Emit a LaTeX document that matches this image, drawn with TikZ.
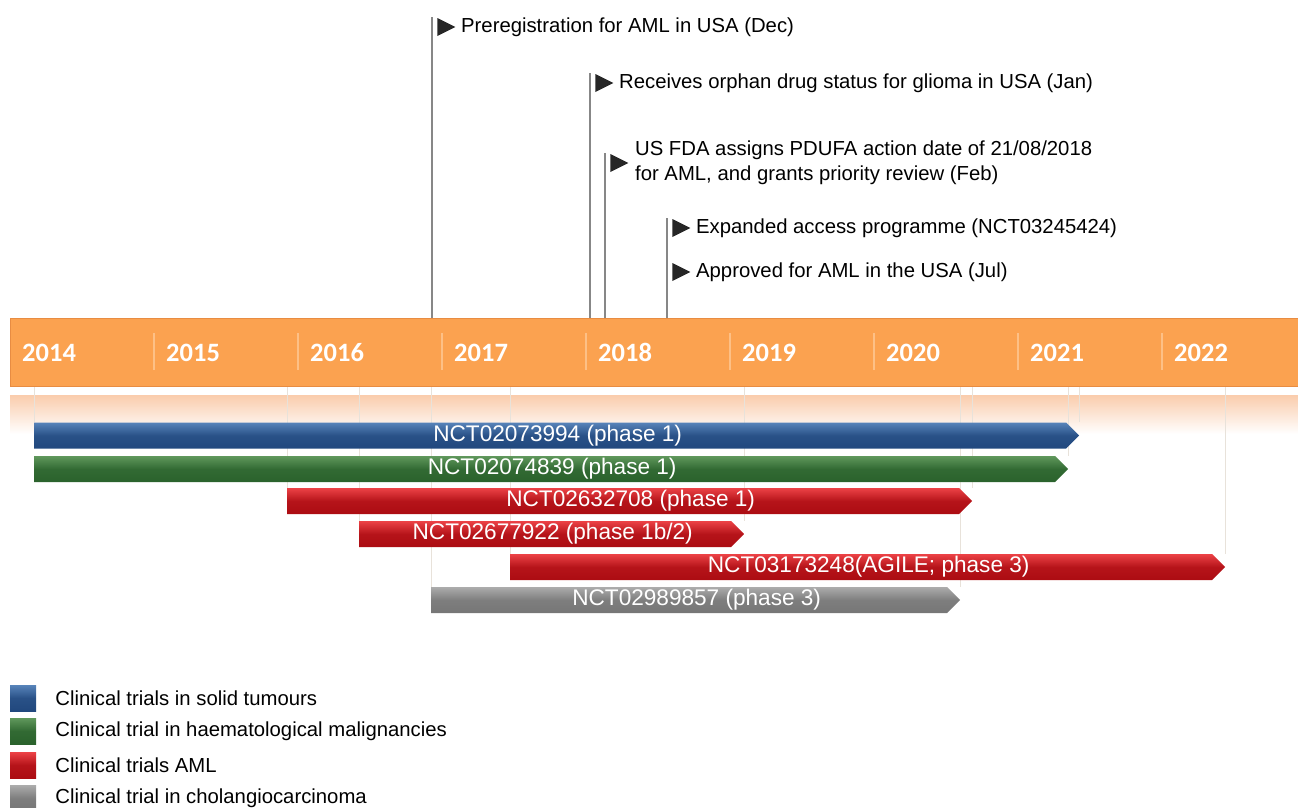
\documentclass[tikz,border=0pt]{standalone}
\usepackage{fontspec}
\setmainfont{Liberation Sans}
\newfontfamily\yearfont{Carlito}
\usetikzlibrary{positioning}
\usetikzlibrary{shapes.geometric}
\usetikzlibrary{shapes.symbols}
\usetikzlibrary{backgrounds}
\definecolor{tlorange}    {RGB}{251,162,80}
\definecolor{tlorangedark}{RGB}{232,140,66}
\definecolor{tlsplit}     {RGB}{253,192,134}
\definecolor{tlglow}      {RGB}{250,204,172}
\definecolor{tldrop}      {RGB}{232,226,218}
\definecolor{solidtop}    {RGB}{88,132,186}
\definecolor{soliddark}   {RGB}{33,72,126}
\definecolor{haemtop}     {RGB}{96,152,92}
\definecolor{haemdark}    {RGB}{42,98,44}
\definecolor{amltop}      {RGB}{236,66,70}
\definecolor{amldark}     {RGB}{172,12,18}
\definecolor{choltop}     {RGB}{172,172,172}
\definecolor{choldark}    {RGB}{118,118,118}
\definecolor{milestone}   {RGB}{135,135,135}
\tikzset{year bar/.style={
    rectangle, draw=tlorangedark, fill=tlorange,
    inner sep=0pt, anchor=north west,
    minimum width=1300pt, minimum height=68pt
}}
\tikzset{year label/.style={
    text=white, inner sep=0pt, anchor=base west,
    font=\yearfont\bfseries\fontsize{26.5}{30}\selectfont
}}
\tikzset{trial/.style={
    signal, signal to=east, anchor=west,
    inner sep=0pt, minimum height=26pt,
    execute at begin node=\hspace*{15pt},
    text=white, font=\fontsize{22.6}{26}\selectfont
}}
\tikzset{solid tumour/.style={
    top color=solidtop, bottom color=soliddark, middle color=soliddark!85!solidtop
}}
\tikzset{haematological/.style={
    top color=haemtop, bottom color=haemdark, middle color=haemdark!85!haemtop
}}
\tikzset{aml/.style={
    top color=amltop, bottom color=amldark, middle color=amldark!85!amltop
}}
\tikzset{cholangio/.style={
    top color=choltop, bottom color=choldark, middle color=choldark!85!choltop
}}
\tikzset{event marker/.style={
    isosceles triangle, isosceles triangle stretches,
    fill=black!85, inner sep=0pt,
    minimum width=18pt, minimum height=18pt
}}
\tikzset{event text/.style={
    node distance=5pt, inner sep=0pt, align=left,
    font=\fontsize{20.3}{24.6}\selectfont
}}
\tikzset{event line/.style={
    draw=milestone, line width=1.5pt
}}
\tikzset{drop line/.style={
    draw=tldrop, line width=1pt
}}
\tikzset{legend key/.style={
    rectangle, inner sep=0pt, minimum size=26pt
}}
\tikzset{legend text/.style={
    node distance=19pt, inner sep=0pt,
    font=\fontsize{20.3}{24.6}\selectfont
}}

\begin{document}
\begin{tikzpicture}[x=1pt, y=-1pt]
    \useasboundingbox (0,0) rectangle (1298,807);

    % year axis
    \node (axis) [year bar] at (10,318) {};
    \draw [tlsplit, line width=1.2pt]
      (154,333) -- (154,370)  (298,333) -- (298,370)
      (442,333) -- (442,370)  (586,333) -- (586,370)
      (730,333) -- (730,370)  (874,333) -- (874,370)
      (1018,333) -- (1018,370) (1162,333) -- (1162,370);

    \node (y2014) [year label] at (22,361)   {2014};
    \node (y2015) [year label] at (166,361)  {2015};
    \node (y2016) [year label] at (310,361)  {2016};
    \node (y2017) [year label] at (454,361)  {2017};
    \node (y2018) [year label] at (598,361)  {2018};
    \node (y2019) [year label] at (742,361)  {2019};
    \node (y2020) [year label] at (886,361)  {2020};
    \node (y2021) [year label] at (1030,361) {2021};
    \node (y2022) [year label] at (1174,361) {2022};

    % trials
    \node (nct1) [trial, solid tumour,   minimum width=1045pt] at (34,435.5) {NCT02073994 (phase 1)};
    \node (nct2) [trial, haematological, minimum width=1034pt] at (34,469)   {NCT02074839 (phase 1)};
    \node (nct3) [trial, aml,            minimum width=685pt]  at (287,501)  {NCT02632708 (phase 1)};
    \node (nct4) [trial, aml,            minimum width=385pt]  at (359,534)  {NCT02677922 (phase 1b/2)};
    \node (nct5) [trial, aml,            minimum width=715pt]  at (510,567)  {NCT03173248(AGILE; phase 3)};
    \node (nct6) [trial, cholangio,      minimum width=529pt]  at (431,600)  {NCT02989857 (phase 3)};

    % glow and drop lines behind the trials
    \begin{pgfonlayer}{background}
      \shade [top color=tlglow, bottom color=white] (10,395) rectangle (1298,434);
      \path [drop line]
        (nct1.west |- axis.south) -- (nct1.west |- nct1.north)
        (nct1.east |- axis.south) -- (nct1.east |- nct1.north)
        (nct2.east |- axis.south) -- (nct2.east |- nct2.north)
        (nct3.west |- axis.south) -- (nct3.west |- nct3.north)
        (nct3.east |- axis.south) -- (nct3.east |- nct3.north)
        (nct4.west |- axis.south) -- (nct4.west |- nct4.north)
        (nct4.east |- axis.south) -- (nct4.east |- nct4.north)
        (nct5.west |- axis.south) -- (nct5.west |- nct5.north)
        (nct5.east |- axis.south) -- (nct5.east |- nct5.north)
        (nct6.west |- axis.south) -- (nct6.west |- nct6.north)
        (nct6.east |- axis.south) -- (nct6.east |- nct6.north);
    \end{pgfonlayer}

    % events
    \coordinate (dec)  at (432,17);
    \coordinate (jan)  at (590,73);
    \coordinate (feb)  at (605,153);
    \coordinate (jul)  at (667,218);

    \node (mdec)  [event marker] at (443,27)  {};
    \node (mjan)  [event marker] at (601,83)  {};
    \node (mfeb)  [event marker] at (616,163) {};
    \node (meap)  [event marker] at (678,228) {};
    \node (mjul)  [event marker] at (678,272) {};

    \node (tdec)  [event text] [right=of mdec] {Preregistration for AML in USA (Dec)};
    \node (tjan)  [event text] [right=of mjan] {Receives orphan drug status for glioma in USA (Jan)};
    \node (tfeb)  [event text] [right=6pt of mfeb] {US FDA assigns PDUFA action date of 21/08/2018\\for AML, and grants priority review (Feb)};
    \node (teap)  [event text] [right=of meap] {Expanded access programme (NCT03245424)};
    \node (tjul)  [event text] [right=of mjul] {Approved for AML in the USA (Jul)};

    \path [event line]
      (dec) -- (dec |- axis.north)
      (jan) -- (jan |- axis.north)
      (feb) -- (feb |- axis.north)
      (jul) -- (jul |- axis.north);

    % legend
    \node (ksolid) [legend key, solid tumour]   at (23,698) {};
    \node (khaem)  [legend key, haematological] at (23,731) {};
    \node (kaml)   [legend key, aml]            at (23,765) {};
    \node (kchol)  [legend key, cholangio]      at (23,798) {};

    \node (lsolid) [legend text] [right=of ksolid] {Clinical trials in solid tumours};
    \node (lhaem)  [legend text] [right=of khaem]  {Clinical trial in haematological malignancies};
    \node (laml)   [legend text] [right=of kaml]   {Clinical trials AML};
    \node (lchol)  [legend text] [right=of kchol]  {Clinical trial in cholangiocarcinoma};
\end{tikzpicture}
\end{document}
